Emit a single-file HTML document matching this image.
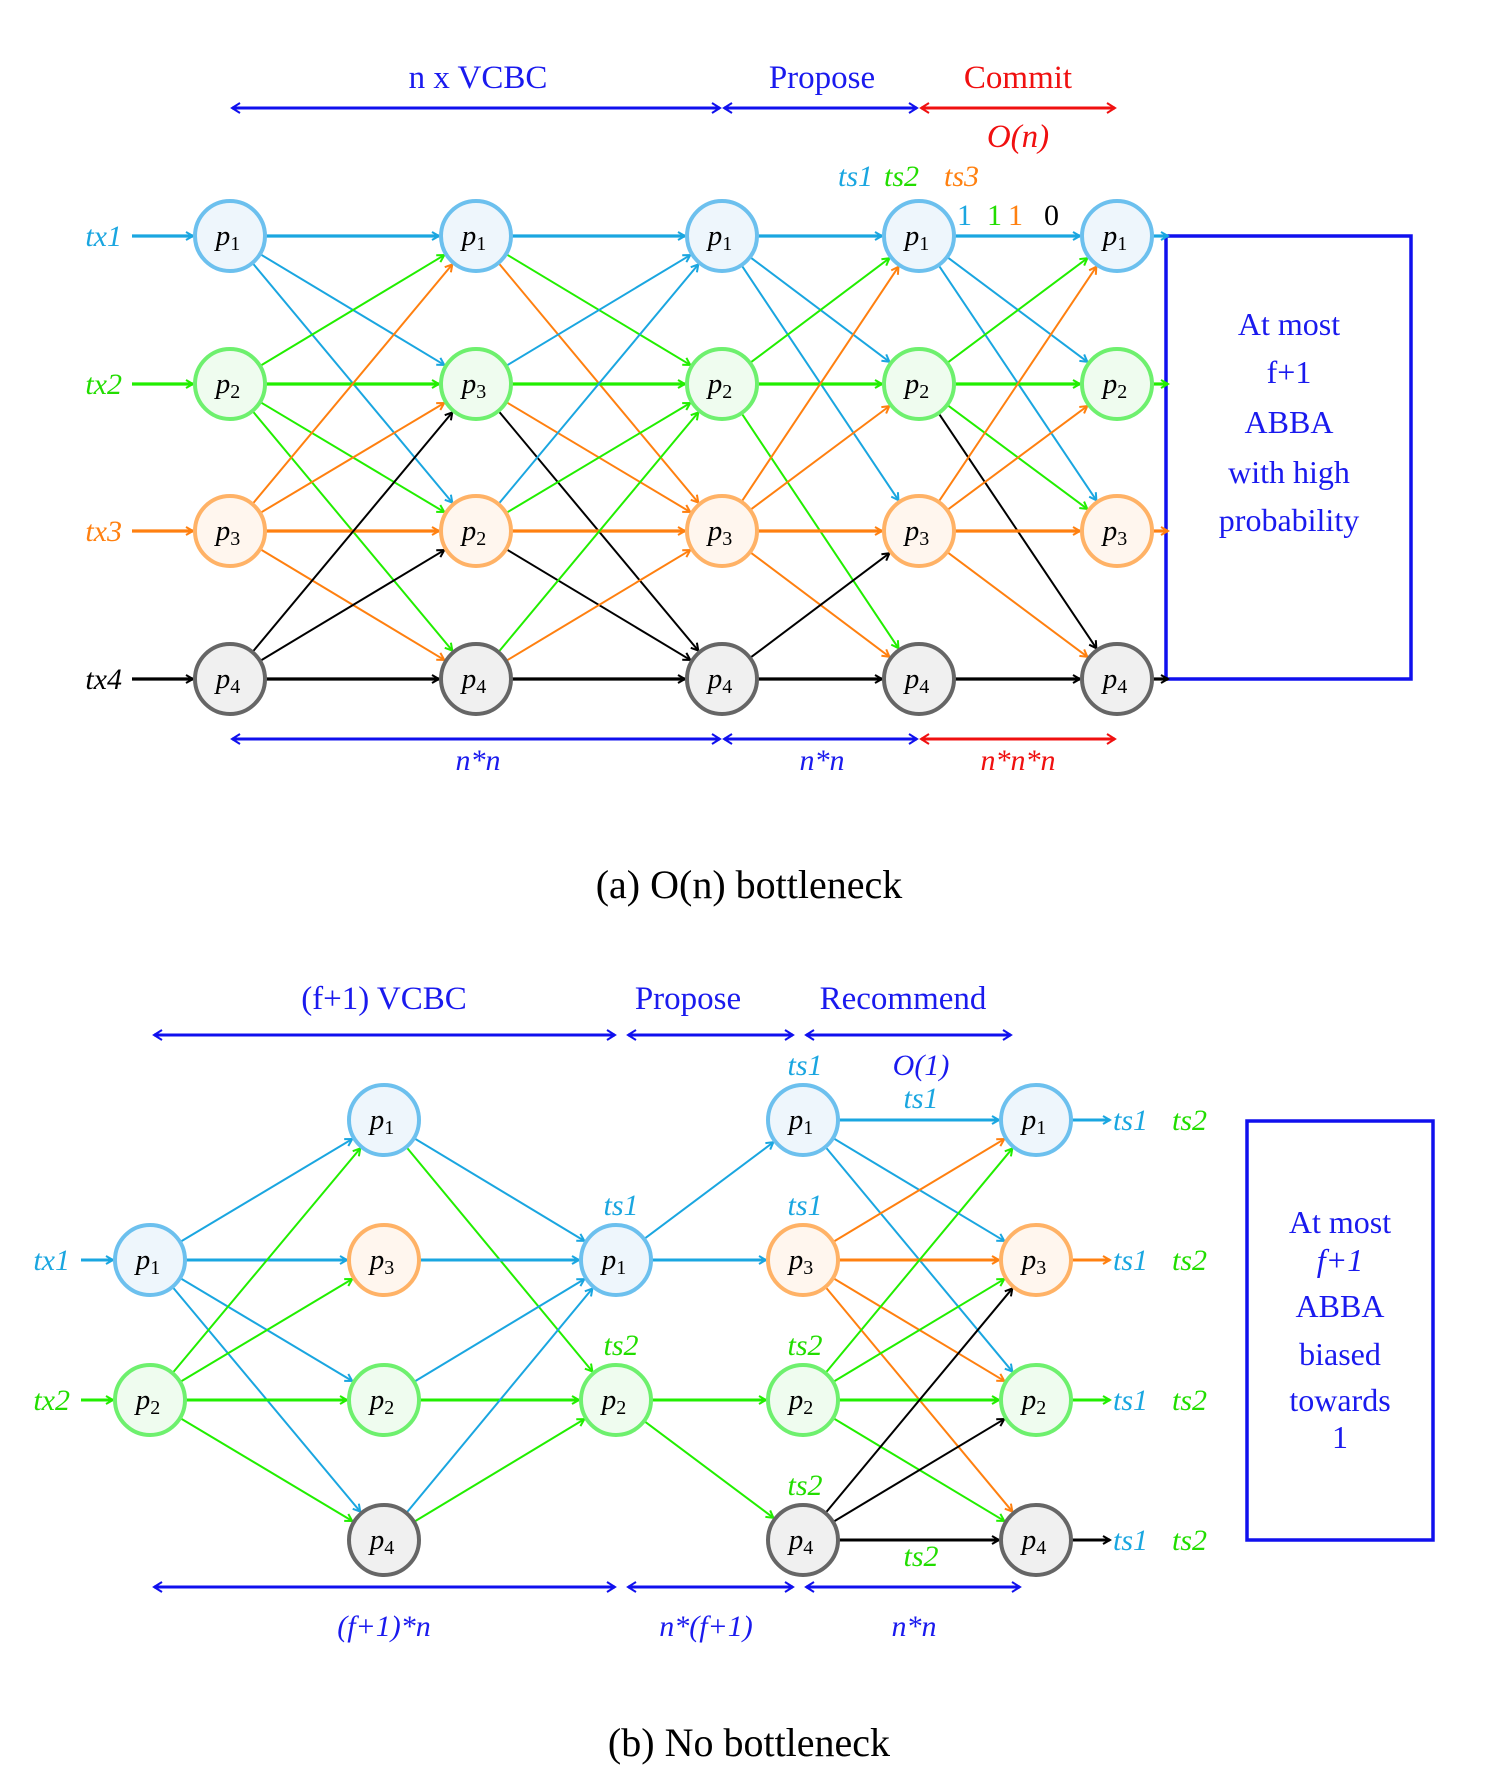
<!DOCTYPE html>
<html><head><meta charset="utf-8"><style>
html,body{margin:0;padding:0;background:#fff;}
svg{display:block;}
text{font-family:"Liberation Serif",serif;}
.it{font-style:italic;}
</style></head><body>
<svg id="s" width="1500" height="1773" viewBox="0 0 1500 1773" xmlns="http://www.w3.org/2000/svg">
<defs>
<marker id="mB" markerWidth="10" markerHeight="10" refX="8" refY="5" orient="auto" markerUnits="userSpaceOnUse"><path d="M1,1 L8,5 L1,9" fill="none" stroke="#1aa6e0" stroke-width="2"/></marker>
<marker id="mG" markerWidth="10" markerHeight="10" refX="8" refY="5" orient="auto" markerUnits="userSpaceOnUse"><path d="M1,1 L8,5 L1,9" fill="none" stroke="#22ee00" stroke-width="2"/></marker>
<marker id="mO" markerWidth="10" markerHeight="10" refX="8" refY="5" orient="auto" markerUnits="userSpaceOnUse"><path d="M1,1 L8,5 L1,9" fill="none" stroke="#ff8010" stroke-width="2"/></marker>
<marker id="mK" markerWidth="10" markerHeight="10" refX="8" refY="5" orient="auto" markerUnits="userSpaceOnUse"><path d="M1,1 L8,5 L1,9" fill="none" stroke="#000" stroke-width="2"/></marker>
<marker id="mU" markerWidth="12" markerHeight="12" refX="9" refY="6" orient="auto" markerUnits="userSpaceOnUse"><path d="M1,1 L9,6 L1,11" fill="none" stroke="#1010ee" stroke-width="2"/></marker>
<marker id="mUs" markerWidth="12" markerHeight="12" refX="3" refY="6" orient="auto" markerUnits="userSpaceOnUse"><path d="M11,1 L3,6 L11,11" fill="none" stroke="#1010ee" stroke-width="2"/></marker>
<marker id="mR" markerWidth="12" markerHeight="12" refX="9" refY="6" orient="auto" markerUnits="userSpaceOnUse"><path d="M1,1 L9,6 L1,11" fill="none" stroke="#f01010" stroke-width="2"/></marker>
<marker id="mRs" markerWidth="12" markerHeight="12" refX="3" refY="6" orient="auto" markerUnits="userSpaceOnUse"><path d="M11,1 L3,6 L11,11" fill="none" stroke="#f01010" stroke-width="2"/></marker>
</defs>

<g font-size="33" text-anchor="middle">
<text x="478" y="88" fill="#1a1aee">n x VCBC</text>
<text x="822" y="88" fill="#1a1aee">Propose</text>
<text x="1018" y="88" fill="#f01010">Commit</text>
<text x="1018" y="147" fill="#f01010" class="it">O(n)</text>
</g>
<g stroke-width="3">
<line x1="232" y1="108" x2="720" y2="108" stroke="#1010ee" marker-start="url(#mUs)" marker-end="url(#mU)"/>
<line x1="724" y1="108" x2="917" y2="108" stroke="#1010ee" marker-start="url(#mUs)" marker-end="url(#mU)"/>
<line x1="921" y1="108" x2="1115" y2="108" stroke="#f01010" marker-start="url(#mRs)" marker-end="url(#mR)"/>
<line x1="232" y1="739" x2="720" y2="739" stroke="#1010ee" marker-start="url(#mUs)" marker-end="url(#mU)"/>
<line x1="724" y1="739" x2="917" y2="739" stroke="#1010ee" marker-start="url(#mUs)" marker-end="url(#mU)"/>
<line x1="921" y1="739" x2="1115" y2="739" stroke="#f01010" marker-start="url(#mRs)" marker-end="url(#mR)"/>
</g>
<g font-size="30" text-anchor="middle" class="it">
<text x="478" y="770" fill="#1a1aee">n*n</text>
<text x="822" y="770" fill="#1a1aee">n*n</text>
<text x="1018" y="770" fill="#f01010">n*n*n</text>
</g>
<text x="838" y="186" font-size="30" class="it" fill="#1aa6e0">ts1</text>
<text x="884" y="186" font-size="30" class="it" fill="#22dd00">ts2</text>
<text x="944" y="186" font-size="30" class="it" fill="#ff8010">ts3</text>
<text x="957" y="225" font-size="30" fill="#1aa6e0">1</text>
<text x="987" y="225" font-size="30" fill="#22dd00">1</text>
<text x="1008" y="225" font-size="30" fill="#ff8010">1</text>
<text x="1044" y="225" font-size="30" fill="#000">0</text>
<g font-size="30" class="it" text-anchor="end">
<text x="122" y="246" fill="#1aa6e0">tx1</text>
<text x="122" y="394" fill="#22dd00">tx2</text>
<text x="122" y="541" fill="#ff8010">tx3</text>
<text x="122" y="689" fill="#000">tx4</text>
</g>
<rect x="1166" y="236" width="245" height="443" fill="none" stroke="#1010ee" stroke-width="3.5"/>
<g font-size="32" text-anchor="middle" fill="#1a1aee">
<text x="1289" y="335">At most</text>
<text x="1289" y="383">f+1</text>
<text x="1289" y="433">ABBA</text>
<text x="1289" y="483">with high</text>
<text x="1289" y="531">probability</text>
</g>
<text x="749" y="898" font-size="40" text-anchor="middle">(a) O(n) bottleneck</text>

<g font-size="33" text-anchor="middle" fill="#1a1aee">
<text x="384" y="1009">(f+1) VCBC</text>
<text x="688" y="1009">Propose</text>
<text x="903" y="1009">Recommend</text>
</g>
<g stroke-width="3" stroke="#1010ee">
<line x1="154" y1="1035" x2="615" y2="1035" marker-start="url(#mUs)" marker-end="url(#mU)"/>
<line x1="628" y1="1035" x2="793" y2="1035" marker-start="url(#mUs)" marker-end="url(#mU)"/>
<line x1="806" y1="1035" x2="1011" y2="1035" marker-start="url(#mUs)" marker-end="url(#mU)"/>
<line x1="154" y1="1587" x2="615" y2="1587" marker-start="url(#mUs)" marker-end="url(#mU)"/>
<line x1="628" y1="1587" x2="793" y2="1587" marker-start="url(#mUs)" marker-end="url(#mU)"/>
<line x1="806" y1="1587" x2="1020" y2="1587" marker-start="url(#mUs)" marker-end="url(#mU)"/>
</g>
<g font-size="30" text-anchor="middle" class="it" fill="#1a1aee">
<text x="384" y="1636">(f+1)*n</text>
<text x="706" y="1636">n*(f+1)</text>
<text x="914" y="1636">n*n</text>
<text x="921" y="1075">O(1)</text>
</g>
<g font-size="30" text-anchor="middle" class="it">
<text x="805" y="1075" fill="#1aa6e0">ts1</text>
<text x="921" y="1108" fill="#1aa6e0">ts1</text>
<text x="621" y="1215" fill="#1aa6e0">ts1</text>
<text x="621" y="1355" fill="#22dd00">ts2</text>
<text x="805" y="1215" fill="#1aa6e0">ts1</text>
<text x="805" y="1355" fill="#22dd00">ts2</text>
<text x="805" y="1495" fill="#22dd00">ts2</text>
<text x="921" y="1566" fill="#22dd00">ts2</text>
</g>
<g font-size="30" class="it" text-anchor="end">
<text x="70" y="1270" fill="#1aa6e0">tx1</text>
<text x="70" y="1410" fill="#22dd00">tx2</text>
</g>
<g font-size="30" class="it">
<text x="1113" y="1130" fill="#1aa6e0">ts1</text><text x="1172" y="1130" fill="#22dd00">ts2</text>
<text x="1113" y="1270" fill="#1aa6e0">ts1</text><text x="1172" y="1270" fill="#22dd00">ts2</text>
<text x="1113" y="1410" fill="#1aa6e0">ts1</text><text x="1172" y="1410" fill="#22dd00">ts2</text>
<text x="1113" y="1550" fill="#1aa6e0">ts1</text><text x="1172" y="1550" fill="#22dd00">ts2</text>
</g>
<rect x="1247" y="1121" width="186" height="419" fill="none" stroke="#1010ee" stroke-width="3.5"/>
<g font-size="32" text-anchor="middle" fill="#1a1aee">
<text x="1340" y="1233">At most</text>
<text x="1340" y="1271" class="it">f+1</text>
<text x="1340" y="1317">ABBA</text>
<text x="1340" y="1365">biased</text>
<text x="1340" y="1411">towards</text>
<text x="1340" y="1448">1</text>
</g>
<text x="749" y="1756" font-size="40" text-anchor="middle">(b) No bottleneck</text>

<g id="edges"></g>
<g id="nodes"></g>
</svg>
<script>
var NS="http://www.w3.org/2000/svg";
var C={B:"#1aa6e0",G:"#22ee00",O:"#ff8010",K:"#000"};
var ST={1:["#6cc0ee","#eef6fc"],2:["#6ef06e","#effcef"],3:["#ffb266","#fff6ee"],4:["#666","#f0f0f0"]};
var R=35;
var eg=document.getElementById("edges"),ng=document.getElementById("nodes");
function line(x1,y1,x2,y2,c,w,trimS,trimE){
  var dx=x2-x1,dy=y2-y1,L=Math.sqrt(dx*dx+dy*dy),ux=dx/L,uy=dy/L;
  var l=document.createElementNS(NS,"line");
  l.setAttribute("x1",x1+ux*trimS);l.setAttribute("y1",y1+uy*trimS);
  l.setAttribute("x2",x2-ux*trimE);l.setAttribute("y2",y2-uy*trimE);
  l.setAttribute("stroke",C[c]);l.setAttribute("stroke-width",w);
  l.setAttribute("marker-end","url(#m"+c+")");eg.appendChild(l);
}
function node(x,y,k,sk){
  var c=document.createElementNS(NS,"circle");
  c.setAttribute("cx",x);c.setAttribute("cy",y);c.setAttribute("r",R);
  c.setAttribute("fill",ST[sk][1]);c.setAttribute("stroke",ST[sk][0]);c.setAttribute("stroke-width",4);
  ng.appendChild(c);
  var t=document.createElementNS(NS,"text");
  t.setAttribute("x",x-2);t.setAttribute("y",y+9);t.setAttribute("text-anchor","middle");
  t.setAttribute("font-size","29");
  t.innerHTML='<tspan font-style="italic">p</tspan><tspan font-size="20" dy="5">'+k+'</tspan>';
  ng.appendChild(t);
}
var ax=[230,476,722,919,1117], ay=[236,384,531,679];
var alab=[[1,2,3,4],[1,3,2,4],[1,2,3,4],[1,2,3,4],[1,2,3,4]];
var aE=[
 [0,0,0,"B"],[0,0,1,"B"],[0,0,2,"B"],
 [0,1,0,"G"],[0,1,1,"G"],[0,1,2,"G"],[0,1,3,"G"],
 [0,2,0,"O"],[0,2,1,"O"],[0,2,2,"O"],[0,2,3,"O"],
 [0,3,1,"K"],[0,3,2,"K"],[0,3,3,"K"],
 [1,0,0,"B"],[1,0,1,"G"],[1,0,2,"O"],
 [1,1,0,"B"],[1,1,1,"G"],[1,1,2,"O"],[1,1,3,"K"],
 [1,2,0,"B"],[1,2,1,"G"],[1,2,2,"O"],[1,2,3,"K"],
 [1,3,1,"G"],[1,3,2,"O"],[1,3,3,"K"],
 [2,0,0,"B"],[2,0,1,"B"],[2,0,2,"B"],
 [2,1,0,"G"],[2,1,1,"G"],[2,1,3,"G"],
 [2,2,0,"O"],[2,2,1,"O"],[2,2,2,"O"],[2,2,3,"O"],
 [2,3,2,"K"],[2,3,3,"K"],
 [3,0,0,"B"],[3,0,1,"B"],[3,0,2,"B"],
 [3,1,0,"G"],[3,1,1,"G"],[3,1,2,"G"],[3,1,3,"K"],
 [3,2,0,"O"],[3,2,1,"O"],[3,2,2,"O"],[3,2,3,"O"],
 [3,3,3,"K"]
];
aE.forEach(function(e){var w=(e[1]==e[2])?3.2:2;line(ax[e[0]],ay[e[1]],ax[e[0]+1],ay[e[2]],e[3],w,R,R+2);});
var cc=["B","G","O","K"];
for(var r=0;r<4;r++){
  line(132,ay[r],230,ay[r],cc[r],3.2,0,R+2);
  line(1117,ay[r],1166+6,ay[r],cc[r],3.2,R,4);
}
for(var i=0;i<5;i++)for(var r=0;r<4;r++)node(ax[i],ay[r],alab[i][r],r+1);
var bx=[150,384,616,803,1036], by=[1120,1260,1400,1540];
var bN=[[[1,1],[2,2]],[[0,1],[1,3],[2,2],[3,4]],[[1,1],[2,2]],[[0,1],[1,3],[2,2],[3,4]],[[0,1],[1,3],[2,2],[3,4]]];
var bE=[
 [0,1,0,"B"],[0,1,1,"B"],[0,1,2,"B"],[0,1,3,"B"],
 [0,2,0,"G"],[0,2,1,"G"],[0,2,2,"G"],[0,2,3,"G"],
 [1,0,1,"B"],[1,0,2,"G"],[1,1,1,"B"],[1,2,1,"B"],[1,2,2,"G"],[1,3,1,"B"],[1,3,2,"G"],
 [2,1,0,"B"],[2,1,1,"B"],[2,2,2,"G"],[2,2,3,"G"],
 [3,0,0,"B"],[3,0,1,"B"],[3,0,2,"B"],
 [3,1,0,"O"],[3,1,1,"O"],[3,1,2,"O"],[3,1,3,"O"],
 [3,2,0,"G"],[3,2,1,"G"],[3,2,2,"G"],[3,2,3,"G"],
 [3,3,1,"K"],[3,3,2,"K"],[3,3,3,"K"]
];
bE.forEach(function(e){var w=(e[1]==e[2])?3:2;line(bx[e[0]],by[e[1]],bx[e[0]+1],by[e[2]],e[3],w,R,R+2);});
line(81,1260,150,1260,"B",3,0,R+2);
line(81,1400,150,1400,"G",3,0,R+2);
var oc=["B","O","G","K"];
for(var r=0;r<4;r++)line(1036,by[r],1110,by[r],oc[r],3,R,0);
bN.forEach(function(col,i){col.forEach(function(n){node(bx[i],by[n[0]],n[1],n[1]);});});
</script>
</body></html>
